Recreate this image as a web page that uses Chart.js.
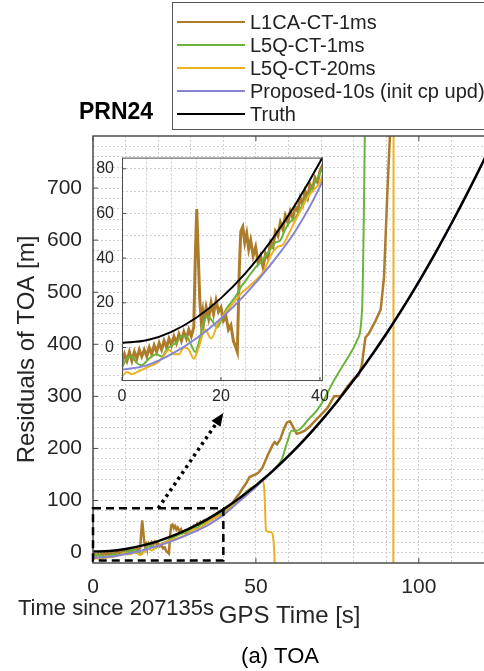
<!DOCTYPE html>
<html lang="en">
<head>
<meta charset="UTF-8">
<title>PRN24 - Residuals of TOA</title>
<script src="https://cdn.jsdelivr.net/npm/chart.js"></script>
<style>
    html, body { margin: 0; padding: 0; background: #fff; overflow: hidden; }
    #wrap { position: relative; width: 484px; height: 671px; overflow: hidden; }
    #main { position: absolute; left: 0; top: 0; }
    #inset { position: absolute; left: 95px; top: 140px; }
</style>
</head>
<body>
<div id="wrap">
    <!-- main canvas is a bit wider than the page: the plot runs off the right edge -->
    <canvas id="main" width="496" height="671"></canvas>
    <canvas id="inset" width="240" height="270"></canvas>
</div>
<script>
// values: time since 207135 s, residual in m
const seriesNames = ['L1CA-CT-1ms', 'L5Q-CT-1ms', 'L5Q-CT-20ms', 'Proposed-10s (init cp upd)', 'Truth'];
const seriesColors = ['#ad7c2a', '#6bb43a', '#edb120', '#8682d4', '#000000'];

const l1caTime = [0, 0.5, 1, 1.5, 2, 2.5, 3, 3.5, 4, 4.5, 5, 5.5, 6, 6.5, 7, 7.5, 8, 8.5, 9, 9.5, 10, 10.5, 11, 11.5, 12, 12.5, 13, 13.5, 14,
    14.5, 14.8, 15.1, 15.4, 15.7, 16, 16.3,
    16.5, 17, 17.5, 18, 18.5, 19, 19.5, 20, 20.5, 21, 21.5, 22, 22.5, 23, 23.3,
    23.7, 24, 24.4, 24.8, 25.2, 25.6, 26, 26.5, 27, 27.5, 28, 28.5, 29, 29.5, 30, 30.5, 31, 31.5, 32, 32.5, 33, 33.5, 34, 34.5, 35, 35.5, 36, 36.5, 37, 37.5, 38, 38.5, 39, 39.5, 40,
    41, 42, 43, 44, 45, 46, 47, 48, 49, 50, 51, 52, 53, 54, 55, 55.7, 56.5, 57.5, 58.5, 59.5, 60.5, 61.5, 62.5, 63.5, 65, 66.5, 68, 70, 72, 74, 76, 78, 80, 81.5, 82.5, 83.6, 84.6, 86.7, 88.3, 89.3, 90.4, 91.1, 91.5];
const l1caRes = [-7, -3, -6, -2, -6, -2, -5, -1, -4, -1, -4, 0, -3, 1, -2, 2, -1, 3, 0, 4, 1, 5, 2, 6, 3, 7, 4, 8, 5,
    9, 40, 62, 42, 22, 12, 16,
    11, 18, 13, 20, 15, 21, 16, 18, 12, 14, 8, 10, 3, 0, -2,
    35, 52, 54, 47, 51, 44, 48, 41, 45, 38, 41, 36, 42, 40, 47, 45, 52, 50, 56, 53, 59, 56, 61, 58, 63, 61, 67, 64, 70, 67, 73, 71, 76, 74, 79,
    84, 90, 97, 106, 114, 124, 133, 145, 148, 150, 155, 163, 178, 192, 205, 212, 208, 218, 236, 250, 252, 240, 228, 230, 234, 242, 252, 265, 278, 300, 300, 318, 333, 340, 360, 413, 420, 445, 467, 528, 700, 797, 900];

const l5q1Time = [0, 1, 2, 3, 4, 5, 6, 7, 8, 9, 10, 11, 12, 13, 14, 14.8, 15.5, 16.5, 17.3, 18.2, 19.2, 20, 21, 22, 23, 24, 25, 26, 27, 28, 29, 30, 31, 32, 32.8, 33.5, 34.3, 35, 36, 37, 38, 39, 40,
    42, 45, 48, 50, 52, 55, 57, 58, 59.5, 61, 62.5, 64, 66, 68.6, 71, 73.3, 76, 78, 81, 82.6, 83.1, 83.6];
const l5q1Res = [-9, -5, -4, -7, -8, -6, -4, -3, -4, -1, 1, 2, 5, 5, 1, -2, 2, 11, 14, 12, 9, 12, 17, 20, 23, 27, 30, 33, 36, 38, 41, 44, 47, 48, 52, 55, 57, 58, 62, 66, 70, 74, 78,
    88, 104, 122, 129, 141, 156, 170, 180, 210, 234, 234, 240, 255, 272, 295, 323, 352, 372, 407, 470, 637, 900];

const l5q20Time = [0, 1, 2, 3, 4, 5, 6, 7, 8, 9, 9.5, 10.5, 11.5, 12.5, 13.5, 14.5, 15.5, 16.8, 18, 19.4, 21, 22.5, 24, 25.5, 27, 28.7, 30, 31.4, 32.5, 33.5, 34.6, 36, 37.2, 38.5, 40,
    42, 45, 48, 50, 52.1, 52.6, 53.1, 54.7, 55.8, 56.3, 92.15, 92.25];
const l5q20Res = [-13, -11, -12, -11, -10, -9, -8, -7, -5, -2, -1, -3, -3, 0, -1, -5, 0, 8, 4, 11, 16, 20, 24, 27, 30, 34.5, 41, 45, 46, 50, 55, 61, 66, 70, 74,
    87, 102, 118, 128, 138, 119, 42, 39, -25, -300, -300, 1000];

const proposedTime = [0, 5, 10, 15, 20, 25, 30, 35, 40, 45, 50, 55, 60, 65, 70, 75, 80, 85, 90, 95, 100, 105, 110, 115, 120, 125];
const proposedRes = [-10, -8, -3, 4, 13, 24, 37, 52, 72, 99, 126, 155, 185, 217, 252, 290, 330, 373, 419, 468, 519, 574, 631, 691, 753, 819];

const truthTime = [0, 5, 10, 15, 20, 25, 30, 35, 40, 45, 50, 55, 60, 65, 70, 75, 80, 85, 90, 95, 100, 105, 110, 115, 120, 125];
const truthRes = [2, 3.2, 7, 13.3, 22.1, 33.4, 47.4, 63.9, 83, 104.7, 129.1, 156, 185.7, 218, 253, 290.8, 331.2, 374.4, 420.3, 469, 520.5, 574.8, 631.9, 691.8, 754.5, 820];

// ticks / grid
const mainXTicks = [0, 10, 20, 30, 40, 50, 60, 70, 80, 90, 100, 110, 120];
const mainXLabels = [0, 50, 100];
const mainYTicks = [0, 20, 40, 60, 80, 100, 120, 140, 160, 180, 200, 220, 240, 260, 280, 300, 320, 340, 360, 380,
    400, 420, 440, 460, 480, 500, 520, 540, 560, 580, 600, 620, 640, 660, 680, 700, 720, 740, 760, 780];
const mainYLabels = [0, 100, 200, 300, 400, 500, 600, 700];
const insetXTicks = [0, 5, 10, 15, 20, 25, 30, 35, 40];
const insetXLabels = [0, 20, 40];
const insetYTicks = [-10, 0, 10, 20, 30, 40, 50, 60, 70, 80];
const insetYLabels = [0, 20, 40, 60, 80];

// zoom box (x0, x1, y0, y1) and arrow, in data units
const zoomBox = [0, 40, -15, 85];
const arrowFrom = [20, 85];
const arrowTo = [40, 268];

const FONT = '"Liberation Sans", Arial, Helvetica, sans-serif';
Chart.defaults.font.family = FONT;
Chart.defaults.color = '#262626';

function pts(t, v) {
    return t.map((x, i) => ({ x: x, y: v[i] }));
}

// drawn top-most first (truth on top, like the matlab plot order)
function makeSets(inset) {
    return [
        { label: seriesNames[4], data: pts(truthTime, truthRes), borderColor: seriesColors[4], borderWidth: inset ? 2 : 2.5, cubicInterpolationMode: 'monotone' },
        { label: seriesNames[3], data: pts(proposedTime, proposedRes), borderColor: seriesColors[3], borderWidth: 2, cubicInterpolationMode: 'monotone' },
        { label: seriesNames[2], data: pts(l5q20Time, l5q20Res), borderColor: seriesColors[2], borderWidth: 2, cubicInterpolationMode: 'monotone' },
        { label: seriesNames[1], data: pts(l5q1Time, l5q1Res), borderColor: seriesColors[1], borderWidth: 2, cubicInterpolationMode: 'monotone' },
        { label: seriesNames[0], data: pts(l1caTime, l1caRes), borderColor: seriesColors[0], borderWidth: inset ? 3 : 2.5, tension: 0 }
    ].map(d => Object.assign(d, { pointRadius: 0, fill: false }));
}

function line(ctx, x1, y1, x2, y2) {
    ctx.beginPath(); ctx.moveTo(x1, y1); ctx.lineTo(x2, y2); ctx.stroke();
}

const mainDecor = {
    id: 'mainDecor',
    afterDraw(chart) {
        const ctx = chart.ctx, a = chart.chartArea;
        const xs = chart.scales.x, ys = chart.scales.y;
        ctx.save();

        // axes frame (no right edge, it runs off the picture)
        ctx.strokeStyle = '#4d4d4d';
        ctx.lineWidth = 1.5;
        ctx.beginPath();
        ctx.moveTo(a.right + 2, a.top); ctx.lineTo(a.left, a.top);
        ctx.lineTo(a.left, a.bottom); ctx.lineTo(a.right + 2, a.bottom);
        ctx.stroke();
        ctx.lineWidth = 1;
        mainXLabels.forEach(v => {
            const p = xs.getPixelForValue(v);
            line(ctx, p, a.bottom, p, a.bottom - 5);
            line(ctx, p, a.top, p, a.top + 5);
        });
        mainYLabels.forEach(v => {
            const p = ys.getPixelForValue(v);
            line(ctx, a.left, p, a.left + 5, p);
        });

        // dashed zoom box
        ctx.strokeStyle = '#000';
        ctx.lineWidth = 2.5;
        ctx.setLineDash([8, 5]);
        const bx0 = xs.getPixelForValue(zoomBox[0]), bx1 = xs.getPixelForValue(zoomBox[1]);
        const by0 = ys.getPixelForValue(zoomBox[2]), by1 = ys.getPixelForValue(zoomBox[3]);
        ctx.strokeRect(bx0, by1, bx1 - bx0, by0 - by1);

        // dotted arrow towards the inset
        const ax0 = xs.getPixelForValue(arrowFrom[0]), ay0 = ys.getPixelForValue(arrowFrom[1]);
        const ax1 = xs.getPixelForValue(arrowTo[0]), ay1 = ys.getPixelForValue(arrowTo[1]);
        const ang = Math.atan2(ay1 - ay0, ax1 - ax0);
        const head = 13;
        ctx.lineWidth = 3.5;
        ctx.setLineDash([3, 4]);
        line(ctx, ax0, ay0, ax1 - Math.cos(ang) * head, ay1 - Math.sin(ang) * head);
        ctx.setLineDash([]);
        ctx.fillStyle = '#000';
        ctx.beginPath();
        ctx.moveTo(ax1, ay1);
        ctx.lineTo(ax1 - head * Math.cos(ang) + 5.5 * Math.sin(ang), ay1 - head * Math.sin(ang) - 5.5 * Math.cos(ang));
        ctx.lineTo(ax1 - head * Math.cos(ang) - 5.5 * Math.sin(ang), ay1 - head * Math.sin(ang) + 5.5 * Math.cos(ang));
        ctx.closePath();
        ctx.fill();

        // legend
        ctx.fillStyle = '#fff';
        ctx.fillRect(172.5, 2.5, 330, 127);
        ctx.strokeStyle = '#555';
        ctx.lineWidth = 1;
        ctx.strokeRect(172.5, 2.5, 330, 127);
        ctx.font = '20px ' + FONT;
        ctx.textBaseline = 'middle';
        ctx.textAlign = 'left';
        seriesNames.forEach((name, i) => {
            const y = 22 + i * 23;
            ctx.strokeStyle = seriesColors[i];
            ctx.lineWidth = 2;
            line(ctx, 177, y, 245, y);
            ctx.fillStyle = '#222';
            ctx.fillText(name, 250, y + 1);
        });

        // title and extra texts
        ctx.fillStyle = '#000';
        ctx.font = 'bold 23px ' + FONT;
        ctx.textAlign = 'center';
        ctx.fillText('PRN24', 116, 113);
        ctx.fillStyle = '#262626';
        ctx.font = '22px ' + FONT;
        ctx.textAlign = 'left';
        ctx.fillText('Time since 207135s', 18, 609);
        ctx.fillStyle = '#000';
        ctx.font = '22px ' + FONT;
        ctx.textAlign = 'center';
        ctx.fillText('(a) TOA', 280, 657);
        ctx.restore();
    }
};

const insetDecor = {
    id: 'insetDecor',
    beforeDraw(chart) {
        const a = chart.chartArea, ctx = chart.ctx;
        ctx.save();
        ctx.fillStyle = '#fff';
        ctx.fillRect(a.left, a.top, a.right - a.left, a.bottom - a.top);
        ctx.restore();
    },
    afterDraw(chart) {
        const a = chart.chartArea, ctx = chart.ctx;
        const xs = chart.scales.x, ys = chart.scales.y;
        ctx.save();
        ctx.strokeStyle = '#4d4d4d';
        ctx.lineWidth = 1;
        ctx.strokeRect(a.left + 0.5, a.top + 0.5, a.right - a.left - 1, a.bottom - a.top - 1);
        insetXLabels.forEach(v => {
            const p = xs.getPixelForValue(v);
            line(ctx, p, a.bottom, p, a.bottom - 4);
        });
        insetYLabels.forEach(v => {
            const p = ys.getPixelForValue(v);
            line(ctx, a.left, p, a.left + 4, p);
        });
        ctx.restore();
    }
};

const gridStyle = { color: '#cfcfcf', lineWidth: 1, drawTicks: false };

new Chart(document.getElementById('main'), {
    type: 'line',
    data: { datasets: makeSets(false) },
    options: {
        responsive: false,
        animation: false,
        events: [],
        layout: { padding: { top: 136, left: 0, right: 0, bottom: 0 } },
        plugins: { legend: { display: false }, title: { display: false }, tooltip: { enabled: false } },
        scales: {
            x: {
                type: 'linear', min: 0, max: 120.7,
                afterBuildTicks: s => { s.ticks = mainXTicks.map(v => ({ value: v })); },
                afterFit: s => { s.height = 108; },
                grid: gridStyle,
                border: { display: false, dash: [2, 2] },
                ticks: {
                    padding: 12, maxRotation: 0, autoSkip: false, font: { size: 21 },
                    callback: v => mainXLabels.includes(v) ? String(v) : ''
                },
                title: { display: true, text: 'GPS Time [s]', font: { size: 24 }, padding: { top: 0, bottom: 40 } }
            },
            y: {
                type: 'linear', min: -20, max: 800,
                afterBuildTicks: s => { s.ticks = mainYTicks.map(v => ({ value: v })); },
                afterFit: s => { s.width = 93; },
                grid: gridStyle,
                border: { display: false, dash: [2, 2] },
                ticks: {
                    padding: 11, autoSkip: false, font: { size: 21 },
                    callback: v => mainYLabels.includes(v) ? String(v) : ''
                },
                title: { display: true, text: 'Residuals of TOA [m]', font: { size: 24 }, padding: { top: 13, bottom: 0 } }
            }
        }
    },
    plugins: [mainDecor]
});

new Chart(document.getElementById('inset'), {
    type: 'line',
    data: { datasets: makeSets(true) },
    options: {
        responsive: false,
        animation: false,
        events: [],
        layout: { padding: { top: 11, left: 0, right: 8, bottom: 0 } },
        plugins: { legend: { display: false }, title: { display: false }, tooltip: { enabled: false } },
        scales: {
            x: {
                type: 'linear', min: 0, max: 40.6,
                afterBuildTicks: s => { s.ticks = insetXTicks.map(v => ({ value: v })); },
                afterFit: s => { s.height = 29; },
                grid: gridStyle,
                border: { display: false, dash: [2, 2] },
                ticks: {
                    padding: 6, maxRotation: 0, autoSkip: false, font: { size: 16 },
                    callback: v => insetXLabels.includes(v) ? String(v) : ''
                }
            },
            y: {
                type: 'linear', min: -15, max: 85,
                afterBuildTicks: s => { s.ticks = insetYTicks.map(v => ({ value: v })); },
                afterFit: s => { s.width = 27; },
                grid: gridStyle,
                border: { display: false, dash: [2, 2] },
                ticks: {
                    padding: 8, autoSkip: false, font: { size: 16 },
                    callback: v => insetYLabels.includes(v) ? String(v) : ''
                }
            }
        }
    },
    plugins: [insetDecor]
});
</script>
</body>
</html>
